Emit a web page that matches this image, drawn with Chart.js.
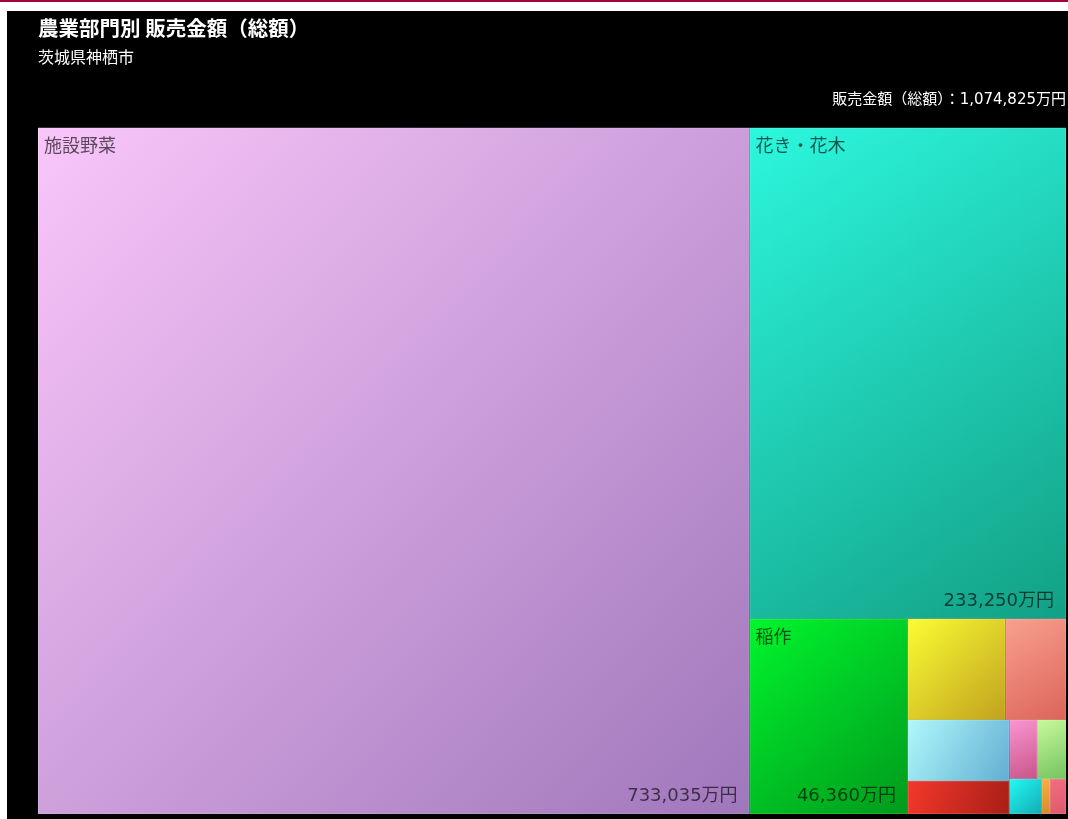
<!DOCTYPE html>
<html lang="ja">
<head>
<meta charset="utf-8">
<title>農業部門別 販売金額（総額）</title>
<script src="https://cdn.jsdelivr.net/npm/chart.js@4.4.0/dist/chart.umd.min.js"></script>
<style>
  body { margin: 0; background: #fff; width: 1068px; height: 819px; overflow: hidden; position: relative; }
  #topline { position: absolute; left: 0; top: 0; width: 1068px; height: 2px; background: #a0063c; }
  #panel { position: absolute; left: 7px; top: 11px; width: 1061px; height: 808px; background: #000; }
  #panel canvas { display: block; }
</style>
</head>
<body>
<div id="topline"></div>
<div id="panel"><canvas id="treemap" width="1061" height="808"></canvas></div>
<script>
// 販売金額（万円）: order matters, it is the layout order of the treemap
const categories = ['施設野菜', '花き・花木', '稲作', '露地野菜', '養豚', '養鶏', '肉用牛',
  '雑穀・いも類・豆類', '果樹類', '酪農', 'その他の作物', '工芸農作物'];
const salesValues = [733035, 233250, 46360, 14780, 9200, 9290, 5030, 2470, 2560, 1720, 420, 840];
const totalSales = 1074825;

// gradient colours, top-left -> bottom-right
const colorStart = ['#fac6fa', '#2cf7de', '#00f52d', '#fcfc34', '#f8a090', '#b0f8fc', '#f4382c',
  '#fa96d2', '#c8fa9c', '#22faf2', '#f8b040', '#f06e80'];
const colorEnd = ['#9f77bb', '#12a085', '#009a1c', '#c0a21e', '#dc6458', '#62aed2', '#a81e16',
  '#c85488', '#74c260', '#14aab6', '#d88a2a', '#dc5a6c'];

const FONT = "'Noto Sans CJK JP', 'Noto Sans', sans-serif";
const NUM_FONT = "'DejaVu Sans', 'Noto Sans CJK JP', sans-serif"; // wide digits

// squarified layout (golden ratio) in the unit square, aspect = width / height
function squarify(values, aspect) {
  const ratio = (1 + Math.sqrt(5)) / 2;
  const cells = [];
  let x0 = 0, y0 = 0, x1 = 1, y1 = 1;
  let value = values.reduce((a, b) => a + b, 0);
  let i0 = 0, i1 = 0;
  const n = values.length;
  while (i0 < n) {
    const dx = (x1 - x0) * aspect, dy = y1 - y0;
    let sumValue = values[i1++];
    let minValue = sumValue, maxValue = sumValue;
    const alpha = Math.max(dy / dx, dx / dy) / (value * ratio);
    let beta = sumValue * sumValue * alpha;
    let minRatio = Math.max(maxValue / beta, beta / minValue);
    for (; i1 < n; ++i1) {
      const v = values[i1];
      sumValue += v;
      if (v < minValue) minValue = v;
      if (v > maxValue) maxValue = v;
      beta = sumValue * sumValue * alpha;
      const newRatio = Math.max(maxValue / beta, beta / minValue);
      if (newRatio > minRatio) { sumValue -= v; break; }
      minRatio = newRatio;
    }
    if (dx < dy) {
      // row across the top
      const yb = y0 + (y1 - y0) * sumValue / value;
      let x = x0;
      for (let i = i0; i < i1; i++) {
        const w = (x1 - x0) * values[i] / sumValue;
        cells[i] = { x0: x, y0: y0, x1: x + w, y1: yb };
        x += w;
      }
      y0 = yb;
    } else {
      // column on the left
      const xb = x0 + (x1 - x0) * sumValue / value;
      let y = y0;
      for (let i = i0; i < i1; i++) {
        const h = (y1 - y0) * values[i] / sumValue;
        cells[i] = { x0: x0, y0: y, x1: xb, y1: y + h };
        y += h;
      }
      x0 = xb;
    }
    value -= sumValue;
    i0 = i1;
  }
  return cells;
}

const treemapPlugin = {
  id: 'treemapCells',
  beforeDatasetsDraw(chart) {
    const { ctx, chartArea, scales } = chart;
    const cells = squarify(salesValues, chartArea.width / chartArea.height);
    ctx.save();
    cells.forEach((c, i) => {
      const left = scales.x.getPixelForValue(c.x0);
      const right = scales.x.getPixelForValue(c.x1);
      const top = scales.y.getPixelForValue(c.y0);
      const bottom = scales.y.getPixelForValue(c.y1);
      const grad = ctx.createLinearGradient(left, top, right, bottom);
      grad.addColorStop(0, colorStart[i]);
      grad.addColorStop(1, colorEnd[i]);
      ctx.fillStyle = grad;
      ctx.fillRect(left, top, right - left, bottom - top);
      ctx.strokeStyle = 'rgba(255,255,255,0.12)';
      ctx.lineWidth = 1;
      ctx.strokeRect(left + 0.5, top + 0.5, right - left - 1, bottom - top - 1);

      // labels only on the big cells
      if (right - left > 120 && bottom - top > 120) {
        ctx.fillStyle = 'rgba(0,0,0,0.64)';
        ctx.textBaseline = 'middle';
        ctx.font = '18px ' + FONT;
        ctx.textAlign = 'left';
        ctx.fillText(categories[i], left + 6, top + 17);
        ctx.font = '18px ' + NUM_FONT;
        ctx.textAlign = 'right';
        ctx.fillText(salesValues[i].toLocaleString('en-US') + '万円', right - 12, bottom - 17.5);
      }
    });
    ctx.restore();
  },
  afterDraw(chart) {
    const { ctx, chartArea } = chart;
    ctx.save();
    ctx.fillStyle = '#fff';
    ctx.font = '15px ' + NUM_FONT;
    ctx.textAlign = 'right';
    ctx.textBaseline = 'middle';
    ctx.fillText('販売金額（総額）：' + totalSales.toLocaleString('en-US') + '万円', chartArea.right, chartArea.top - 28);
    ctx.restore();
  }
};

const chart = new Chart(document.getElementById('treemap').getContext('2d'), {
  type: 'scatter',
  data: {
    datasets: [{ label: '販売金額', data: [] }]
  },
  options: {
    responsive: false, // fixed canvas size
    animation: false,
    layout: {
      padding: { left: 31, right: 2, top: 0, bottom: 5 }
    },
    scales: {
      x: { type: 'linear', min: 0, max: 1, display: false },
      y: { type: 'linear', min: 0, max: 1, reverse: true, display: false }
    },
    plugins: {
      legend: { display: false },
      tooltip: { enabled: false },
      title: {
        display: true,
        text: '農業部門別 販売金額（総額）',
        align: 'start',
        color: '#fff',
        font: { family: FONT, size: 20.5, weight: 'bold' },
        padding: { top: 5, bottom: 2 }
      },
      subtitle: {
        display: true,
        text: '茨城県神栖市',
        align: 'start',
        color: '#fff',
        font: { family: FONT, size: 16 },
        padding: { top: 5, bottom: 61 }
      }
    }
  },
  plugins: [treemapPlugin]
});
</script>
</body>
</html>
